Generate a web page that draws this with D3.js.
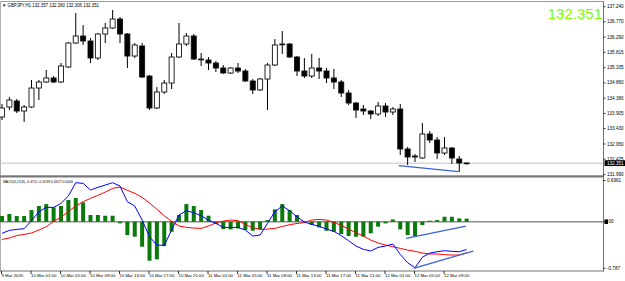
<!DOCTYPE html>
<html><head><meta charset="utf-8">
<script src="https://cdn.jsdelivr.net/npm/d3@7"></script>
<style>body{margin:0;background:#fff}svg{display:block}text{font-family:"Liberation Sans",Arial,sans-serif}</style>
</head><body><svg id="c" width="625" height="281"></svg>
<script>
// ---- data ----
const open=[133.793,134.105,134.293,133.980,134.105,134.699,134.887,135.012,134.887,135.355,136.105,136.324,136.168,135.637,136.387,136.574,136.855,136.387,135.699,136.012,135.074,134.074,134.574,134.855,135.668,136.074,136.324,135.605,135.574,135.480,135.324,135.168,135.324,135.230,134.918,134.637,134.980,135.418,136.074,136.074,135.668,135.230,135.074,135.324,135.230,135.012,134.887,134.543,134.230,134.043,133.980,133.887,134.137,133.949,134.043,132.793,132.574,132.512,133.262,133.074,132.668,132.824,132.480,132.357];
const high=[134.199,134.418,134.355,134.168,134.949,134.949,135.262,135.074,135.480,136.137,137.043,136.668,136.262,136.418,136.730,137.137,136.918,136.418,136.105,136.105,135.105,134.730,134.949,135.793,136.730,136.418,136.387,135.793,135.668,135.543,135.418,135.355,135.480,135.293,134.980,135.012,135.480,136.230,136.480,136.105,135.699,135.637,135.762,135.637,135.324,135.293,134.949,134.637,134.262,134.168,134.011,134.262,134.230,134.105,134.199,132.855,132.637,133.605,133.355,133.168,133.168,132.855,132.574,132.360];
const low=[133.699,134.011,133.918,133.637,134.074,134.324,134.855,134.855,134.855,135.324,136.074,136.043,135.480,135.574,136.105,136.543,136.105,135.324,135.637,135.012,134.011,134.043,134.512,134.668,135.637,136.012,135.574,135.387,135.262,135.199,135.137,135.137,135.168,134.887,134.512,134.605,134.011,135.387,135.762,135.637,135.074,135.012,135.012,134.980,134.855,134.668,134.418,134.168,133.762,133.855,133.730,133.824,133.793,133.855,132.605,132.293,132.387,132.480,132.980,132.480,132.605,132.324,132.074,132.306];
const close=[134.074,134.324,133.980,134.105,134.699,134.887,135.012,134.887,135.387,136.105,136.324,136.168,135.637,136.387,136.574,136.855,136.387,135.699,136.043,135.043,134.074,134.574,134.855,135.668,136.074,136.324,135.605,135.600,135.480,135.324,135.168,135.324,135.230,134.918,134.637,134.980,135.418,136.043,136.060,135.668,135.230,135.074,135.324,135.230,135.012,134.887,134.543,134.230,134.011,133.980,133.887,134.137,133.949,134.043,132.793,132.543,132.543,133.262,133.074,132.668,132.824,132.512,132.355,132.351];
const macd=[-0.197,-0.146,-0.13,-0.118,0.017,0.169,0.242,0.242,0.31,0.434,0.659,0.648,0.535,0.58,0.619,0.659,0.602,0.338,0.265,0.028,-0.253,-0.394,-0.4,-0.141,0.113,0.186,0.152,0.101,0.028,-0.028,-0.096,-0.096,-0.096,-0.141,-0.242,-0.225,-0.028,0.169,0.265,0.186,0.084,-0.005,-0.045,-0.079,-0.124,-0.163,-0.236,-0.321,-0.411,-0.467,-0.495,-0.434,-0.411,-0.377,-0.552,-0.693,-0.777,-0.6,-0.53,-0.507,-0.49,-0.5,-0.507,-0.4712];
const signal=[-0.30,-0.275,-0.235,-0.215,-0.19,-0.14,-0.085,0.005,0.075,0.175,0.265,0.338,0.394,0.445,0.5,0.563,0.585,0.53,0.48,0.41,0.315,0.21,0.1,0.005,-0.073,-0.095,-0.107,-0.113,-0.073,-0.02,0.01,0.028,0.017,-0.045,-0.1,-0.13,-0.124,-0.113,-0.08,-0.05,-0.03,-0.015,0.028,0.039,0.028,-0.011,-0.062,-0.124,-0.186,-0.242,-0.31,-0.36,-0.394,-0.422,-0.45,-0.479,-0.5,-0.53,-0.545,-0.546,-0.557,-0.563,-0.563,-0.5239];
const hist=[0.096,0.13,0.096,0.096,0.197,0.265,0.298,0.242,0.265,0.366,0.4,0.326,0.113,0.113,0.101,0.101,-0.028,-0.225,-0.253,-0.422,-0.659,-0.636,-0.411,-0.169,0.113,0.298,0.265,0.197,0.101,-0.04,-0.124,-0.13,-0.113,-0.141,-0.152,-0.13,0.028,0.208,0.298,0.197,0.113,0.01,-0.056,-0.096,-0.152,-0.169,-0.208,-0.242,-0.253,-0.253,-0.197,-0.084,-0.028,0.039,-0.13,-0.225,-0.242,-0.056,0.017,0.028,0.084,0.084,0.056,0.0527];
const priceTicks=[137.240,136.770,136.290,135.815,135.335,134.860,134.380,133.905,133.430,132.950,132.475,131.990];
const priceTickLabels=["137.240","136.770","136.290","135.815","135.335","134.860","134.380","133.905","133.430","132.950","132.475","131.990"];
const macdTicks=[0.6961,0,-0.787];
const macdTickLabels=["0.6961","00","-0.787"];
const timeTickIdx=[0,4,8,12,16,20,24,28,32,36,40,44,48,52,56,60];
const timeTickLabels=["9 Mar 2020","10 Mar 01:00","10 Mar 05:00","10 Mar 09:00","10 Mar 13:00","10 Mar 17:00","10 Mar 21:00","11 Mar 01:00","11 Mar 05:00","11 Mar 09:00","11 Mar 13:00","11 Mar 17:00","11 Mar 21:00","12 Mar 01:00","12 Mar 05:00","12 Mar 09:00"];
const headerText="▼ GBPJPY,H1 132.357 132.360 132.306 132.351";
const macdHeaderText="MACD(5,13,8) -0.4712 -0.5239 0.0527 0.0000";
const lastPrice=132.351;
const lastPriceLabel="132.351";
const priceTrendIdx=[53.8,61.9], priceTrendVal=[132.271,132.084];
const histTrendIdx=[54.8,62.9], histTrendVal=[-0.280,-0.073];
const macdTrendIdx=[55.8,63.9], macdTrendVal=[-0.787,-0.495];

// ---- layout ----
const svg=d3.select("#c");
const W=625,H=281,axisX=603.5;
svg.append("rect").attr("width",W).attr("height",H).attr("fill","#fff");
const x=d3.scaleLinear().domain([0,63]).range([2,2+63*7.375]);
const yP=d3.scaleLinear().domain([131.99,137.24]).range([174.7,6.7]);
const yM=d3.scaleLinear().domain([-0.787,0.6961]).range([268.3,180.5]);

const defs=svg.append("defs");
defs.append("clipPath").attr("id","cp").append("rect").attr("x",0).attr("y",2).attr("width",axisX).attr("height",173.5);
defs.append("clipPath").attr("id","cm").append("rect").attr("x",0).attr("y",177.5).attr("width",axisX).attr("height",93);

// frame
svg.append("line").attr("x1",0).attr("x2",axisX).attr("y1",1.5).attr("y2",1.5).attr("stroke","#9a9a9a");
svg.append("line").attr("x1",0.5).attr("x2",0.5).attr("y1",1).attr("y2",271).attr("stroke","#b0b0b0");
svg.append("line").attr("x1",axisX).attr("x2",axisX).attr("y1",1).attr("y2",271.5).attr("stroke","#707070");
svg.append("rect").attr("x",0).attr("y",175.3).attr("width",axisX).attr("height",2.2).attr("fill","#777");
svg.append("line").attr("x1",0).attr("x2",axisX).attr("y1",271).attr("y2",271).attr("stroke","#707070");

// price pane
const gp=svg.append("g").attr("clip-path","url(#cp)");
gp.append("line").attr("x1",0).attr("x2",axisX).attr("y1",yP(lastPrice)).attr("y2",yP(lastPrice)).attr("stroke","#c4c4c4");
const idx=d3.range(open.length);
gp.selectAll("line.w").data(idx).join("line").attr("class","w")
  .attr("x1",i=>x(i)).attr("x2",i=>x(i)).attr("y1",i=>yP(high[i])).attr("y2",i=>yP(low[i]))
  .attr("stroke","#000").attr("stroke-width",1);
gp.selectAll("rect.b").data(idx).join("rect").attr("class","b")
  .attr("x",i=>x(i)-2.5).attr("width",5)
  .attr("y",i=>yP(Math.max(open[i],close[i])))
  .attr("height",i=>Math.max(0.8,Math.abs(yP(open[i])-yP(close[i]))))
  .attr("fill",i=>close[i]>=open[i]?"#fff":"#000")
  .attr("stroke","#111").attr("stroke-width",0.9);
gp.append("line").attr("x1",x(priceTrendIdx[0])).attr("x2",x(priceTrendIdx[1]))
  .attr("y1",yP(priceTrendVal[0])).attr("y2",yP(priceTrendVal[1])).attr("stroke","#3a62d8").attr("stroke-width",1.3);

svg.append("text").attr("x",2).attr("y",7.3).attr("font-size",4.6).attr("textLength",97).attr("lengthAdjust","spacingAndGlyphs").text(headerText);
svg.append("text").attr("x",602).attr("y",18.6).attr("text-anchor","end").attr("font-size",15).attr("fill","#7cfc00").text(lastPriceLabel);

// price axis
priceTicks.forEach((p,k)=>{
  const yy=yP(p);
  svg.append("line").attr("x1",axisX).attr("x2",axisX+2).attr("y1",yy).attr("y2",yy).attr("stroke","#000").attr("stroke-width",0.8);
  svg.append("text").attr("x",607).attr("y",yy+1.6).attr("font-size",4.6).text(priceTickLabels[k]);
});
svg.append("rect").attr("x",axisX+1).attr("y",yP(lastPrice)-2.9).attr("width",21).attr("height",5.8).attr("fill","#000");
svg.append("text").attr("x",607).attr("y",yP(lastPrice)+1.6).attr("font-size",4.6).attr("fill","#fff").text(lastPriceLabel);

// MACD pane
const gm=svg.append("g").attr("clip-path","url(#cm)");
gm.append("line").attr("x1",0).attr("x2",axisX).attr("y1",yM(0)).attr("y2",yM(0)).attr("stroke","#8c8c8c").attr("stroke-width",1.4);
gm.selectAll("rect.h").data(idx).join("rect").attr("class","h")
  .attr("x",i=>x(i)-2).attr("width",4)
  .attr("y",i=>Math.min(yM(0),yM(hist[i])))
  .attr("height",i=>Math.abs(yM(hist[i])-yM(0)))
  .attr("fill","#0a7a0a");
const ln=d3.line().x((d,i)=>x(i)).y(d=>yM(d));
gm.append("path").attr("d",ln(signal)).attr("fill","none").attr("stroke","#ff0000").attr("stroke-width",1);
gm.append("path").attr("d",ln(macd)).attr("fill","none").attr("stroke","#0000ff").attr("stroke-width",1);
gm.append("line").attr("x1",x(histTrendIdx[0])).attr("x2",x(histTrendIdx[1]))
  .attr("y1",yM(histTrendVal[0])).attr("y2",yM(histTrendVal[1])).attr("stroke","#3a62d8").attr("stroke-width",1.3);
gm.append("line").attr("x1",x(macdTrendIdx[0])).attr("x2",x(macdTrendIdx[1]))
  .attr("y1",yM(macdTrendVal[0])).attr("y2",yM(macdTrendVal[1])).attr("stroke","#3a62d8").attr("stroke-width",1.3);
svg.append("text").attr("x",3).attr("y",183.3).attr("font-size",4.4).attr("textLength",70).attr("lengthAdjust","spacingAndGlyphs").text(macdHeaderText);

macdTicks.forEach((v,k)=>{
  const yy=yM(v);
  svg.append("line").attr("x1",axisX).attr("x2",axisX+2).attr("y1",yy).attr("y2",yy).attr("stroke","#000").attr("stroke-width",0.8);
  if(v===0){
    svg.append("rect").attr("x",axisX+1).attr("y",yy-2.3).attr("width",3.5).attr("height",4.6).attr("fill","#000");
    svg.append("text").attr("x",608.5).attr("y",yy+1.6).attr("font-size",4.6).text(macdTickLabels[k]);
  } else {
    svg.append("text").attr("x",607).attr("y",yy+1.6).attr("font-size",4.6).text(macdTickLabels[k]);
  }
});

// time axis
timeTickIdx.forEach((i,k)=>{
  const xx=x(i);
  svg.append("line").attr("x1",xx-0.5).attr("x2",xx-0.5).attr("y1",271).attr("y2",274).attr("stroke","#000").attr("stroke-width",0.8);
  svg.append("text").attr("x",xx-0.5).attr("y",277.3).attr("font-size",4.3).text(timeTickLabels[k]);
});
</script></body></html>
